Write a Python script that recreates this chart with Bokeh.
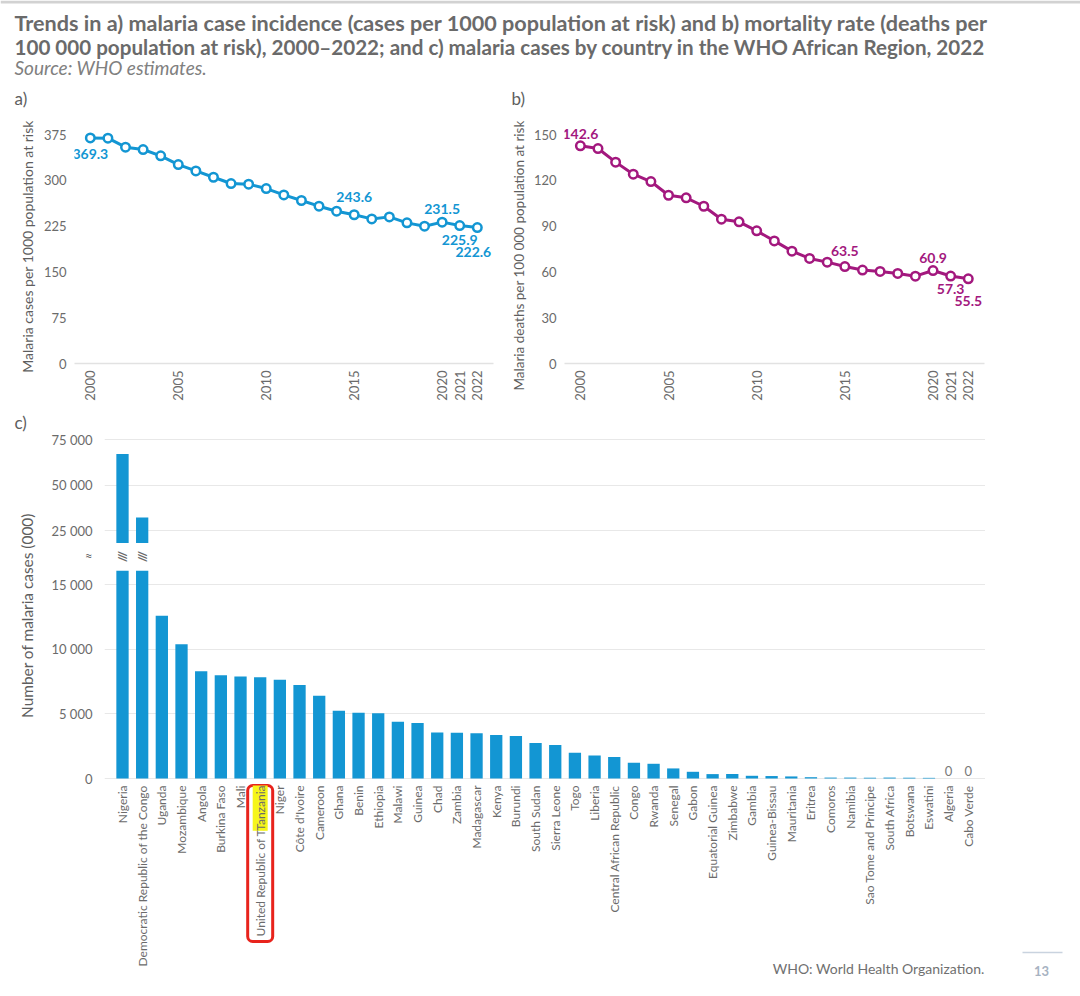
import numpy as np
from bokeh.plotting import figure
from bokeh.layouts import column, row
from bokeh.models import Range1d, FixedTicker, LabelSet, ColumnDataSource
from bokeh.core.properties import value
from bokeh.embed import file_html
from bokeh.resources import INLINE

# ---------------- data ----------------
years = list(range(2000, 2023))
incidence = [369.3, 369.0, 354.2, 350.4, 340.0, 325.8, 315.4, 305.0, 294.7, 293.6, 286.5, 276.1,
             266.9, 257.6, 249.4, 243.6, 236.8, 240.1, 230.3, 224.8, 231.5, 225.9, 222.6]
mortality = [142.6, 140.8, 131.9, 124.0, 119.2, 110.2, 108.5, 103.0, 94.5, 92.8, 86.9, 80.3,
             73.6, 68.8, 66.4, 63.5, 61.2, 60.3, 59.0, 57.2, 60.9, 57.3, 55.5]
label_years = [2000, 2015, 2020, 2021, 2022]
year_ticks = [2000, 2005, 2010, 2015, 2020, 2021, 2022]
incidence_ticks = [0, 75, 150, 225, 300, 375]
mortality_ticks = [0, 30, 60, 90, 120, 150]

countries = ["Nigeria", "Democratic Republic of the Congo", "Uganda", "Mozambique", "Angola",
             "Burkina Faso", "Mali", "United Republic of Tanzania", "Niger", "Côte d'Ivoire",
             "Cameroon", "Ghana", "Benin", "Ethiopia", "Malawi", "Guinea", "Chad", "Zambia",
             "Madagascar", "Kenya", "Burundi", "South Sudan", "Sierra Leone", "Togo", "Liberia",
             "Central African Republic", "Congo", "Rwanda", "Senegal", "Gabon", "Equatorial Guinea",
             "Zimbabwe", "Gambia", "Guinea-Bissau", "Mauritania", "Eritrea", "Comoros", "Namibia",
             "Sao Tome and Principe", "South Africa", "Botswana", "Eswatini", "Algeria", "Cabo Verde"]
cases = [67000, 32100, 12600, 10400, 8300, 8000, 7900, 7850, 7650, 7250,
         6400, 5250, 5100, 5050, 4400, 4300, 3560, 3540, 3510, 3370,
         3300, 2750, 2600, 2000, 1790, 1660, 1220, 1140, 780, 520, 340,
         350, 210, 190, 160, 100, 70, 70, 60, 70, 60, 50, 0, 0]
cases_ticks_low = [0, 5000, 10000, 15000]
cases_ticks_high = [25000, 50000, 75000]
break_low = 16080      # top of the lower axis segment
break_high = 17860     # bottom of the upper axis segment
break_mark = 17200     # where the break sign sits
highlight_country = "United Republic of Tanzania"
highlight_word = "Tanzania"

title_lines = ["Trends in a) malaria case incidence (cases per 1000 population at risk) and b) mortality rate (deaths per",
               "100 000 population at risk), 2000\u20132022; and c) malaria cases by country in the WHO African Region, 2022"]
source_text = "Source: WHO estimates."
ylab_a = "Malaria cases per 1000 population at risk"
ylab_b = "Malaria deaths per 100 000 population at risk"
ylab_c = "Number of malaria cases (000)"
footer_text = "WHO: World Health Organization."
page_number = "13"

# ---------------- style ----------------
FONT = "Lato"
BLUE = "#1396d3"
MAGENTA = "#a3187e"
TICK = "#6b6b6b"
LABEL = "#5e5e5e"
GRID = "#e8e8e8"
TXT_KW = dict(text_font=value(FONT), text_baseline="middle")


def fmt(v):
    return f"{v:,}".replace(",", " ")


def strip_fig(x0, x1, y0, y1):
    """A figure without axes whose data coordinates equal page pixels (y measured from y1 up)."""
    p = figure(width=x1 - x0, height=y1 - y0, x_range=Range1d(x0, x1), y_range=Range1d(0, y1 - y0),
               x_axis_type=None, y_axis_type=None, toolbar_location=None, output_backend="svg",
               title=None, min_border=0, outline_line_color=None)
    return p, (lambda sy: y1 - sy)


def style_axis(ax, size="13px"):
    ax.axis_line_color = None
    ax.major_tick_line_color = None
    ax.minor_tick_line_color = None
    ax.major_tick_out = 0
    ax.major_tick_in = 0
    ax.major_label_text_font = FONT
    ax.major_label_text_font_size = size
    ax.major_label_text_color = TICK


# ---------------- header ----------------
hdr, hy = strip_fig(0, 1080, 0, 88)
hdr.segment(x0=[0], y0=[hy(1.5)], x1=[1080], y1=[hy(1.5)], line_color="#d2d2d2", line_width=3)
hdr.text(x=[14, 14], y=[hy(22), hy(46)], text=title_lines, text_font_size=["21.6px", "20.6px"],
         text_font_style="bold", text_color="#6a6a6a", text_align="left", **TXT_KW)
hdr.text(x=[14], y=[hy(67)], text=[source_text], text_font_size="19px",
         text_font_style="italic", text_color="#808080", text_align="left", **TXT_KW)


# ---------------- trend panels ----------------
def trend_panel(x0, width, fl, fr, vals, ticks, color, offsets):
    ft, fb = 120, 363
    ymax = (fb - ft) * ticks[-1] / 229.0
    p = figure(width=width, height=320, x_range=Range1d(1999.1, 2022.92), y_range=Range1d(0, ymax),
               toolbar_location=None, output_backend="svg", title=None,
               min_border_left=fl - x0, min_border_right=x0 + width - fr,
               min_border_top=ft - 88, min_border_bottom=408 - fb, outline_line_color=None)
    p.grid.visible = False
    p.line(years, vals, line_width=3, line_color=color)
    p.scatter(years, vals, marker="circle", size=8.5, fill_color="white", line_color=color, line_width=2.5)

    lv = [vals[years.index(y)] for y in label_years]
    src = ColumnDataSource(dict(x=label_years, y=lv, t=[f"{v:.1f}" for v in lv],
                                ox=[offsets[y][0] for y in label_years],
                                oy=[offsets[y][1] for y in label_years]))
    p.add_layout(LabelSet(x="x", y="y", text="t", source=src, x_offset="ox", y_offset="oy",
                          text_font=value(FONT), text_font_size=value("14px"), text_font_style="bold",
                          text_color=color, text_align="center", text_baseline="middle"))

    style_axis(p.yaxis[0])
    p.yaxis.ticker = FixedTicker(ticks=ticks)
    p.yaxis.major_label_standoff = 8
    style_axis(p.xaxis[0])
    p.xaxis.ticker = FixedTicker(ticks=year_ticks)
    p.xaxis.major_label_orientation = np.pi / 2
    p.xaxis.major_label_standoff = 7
    p.xaxis.axis_line_color = "#e2e2e2"
    p.xaxis.axis_line_width = 1.5
    return p


off_a = {2000: (0, -16), 2015: (0, 18), 2020: (0, 13), 2021: (0, -14), 2022: (-4, -24)}
off_b = {2000: (0, 12), 2015: (0, 16), 2020: (0, 13), 2021: (0, -13), 2022: (0, -22)}

sa, say = strip_fig(0, 40, 88, 408)
sa.text(x=[14], y=[say(98)], text=["a)"], text_font_size="17px", text_color=LABEL, text_align="left", **TXT_KW)
sa.text(x=[27], y=[say(246)], text=[ylab_a], angle=np.pi / 2, text_font_size="14px",
        text_color=LABEL, text_align="center", **TXT_KW)
pa = trend_panel(40, 464, 72, 493, incidence, incidence_ticks, BLUE, off_a)

sb, sby = strip_fig(504, 530, 88, 408)
sb.text(x=[511], y=[sby(98)], text=["b)"], text_font_size="17px", text_color=LABEL, text_align="left", **TXT_KW)
sb.text(x=[518], y=[sby(255)], text=[ylab_b], angle=np.pi / 2, text_font_size="13.5px",
        text_color=LABEL, text_align="center", **TXT_KW)
pb = trend_panel(530, 550, 563, 984, mortality, mortality_ticks, MAGENTA, off_b)

# ---------------- panel c ----------------
C_TOP, C_BOT = 408, 994
sc, scy = strip_fig(0, 48, C_TOP, C_BOT)
sc.text(x=[14], y=[scy(422)], text=["c)"], text_font_size="17px", text_color=LABEL, text_align="left", **TXT_KW)
sc.text(x=[26], y=[scy(615)], text=[ylab_c], angle=np.pi / 2, text_font_size="15.4px",
        text_color=LABEL, text_align="center", **TXT_KW)

sr, sry = strip_fig(985, 1080, C_TOP, C_BOT)
sr.segment(x0=[1022], y0=[sry(952)], x1=[1062], y1=[sry(952)], line_color="#c9d3df", line_width=1.5)
sr.text(x=[1041], y=[sry(970)], text=[page_number], text_font_size="13px", text_font_style="bold",
        text_color="#a7b3c2", text_align="center", **TXT_KW)

idx = list(range(len(countries)))
C_FL, C_FR = 104, 985
PITCH = 19.67
cxs = -0.915
xr_c = Range1d(cxs, cxs + (C_FR - C_FL) / PITCH)
cdx = lambda sx: cxs + (sx - C_FL) / PITCH

# upper segment of the broken axis
U_SCALE = (530 - 439) / (75000 - 25000)
upper = figure(width=C_FR - 48, height=543 - C_TOP, x_range=xr_c,
               y_range=Range1d(break_high, break_high + (543 - 425) / U_SCALE), x_axis_type=None,
               toolbar_location=None, output_backend="svg", title=None,
               min_border_left=C_FL - 48, min_border_right=0, min_border_top=425 - C_TOP,
               min_border_bottom=0, outline_line_color=None)
upper.vbar(x=idx, top=cases, bottom=0, width=0.625, fill_color=BLUE, line_color=None)
style_axis(upper.yaxis[0])
upper.yaxis.ticker = FixedTicker(ticks=cases_ticks_high)
upper.yaxis.major_label_overrides = {t: fmt(t) for t in cases_ticks_high}
upper.yaxis.major_label_standoff = 12
upper.ygrid.grid_line_color = GRID

# lower segment (frame also holds the category labels and the footer)
L_SCALE = (778 - 584.3) / 15000
Z = 778  # page y of zero
lower = figure(width=C_FR - 48, height=C_BOT - 543, x_range=xr_c,
               y_range=Range1d(-(C_BOT - Z) / L_SCALE, (Z - 543) / L_SCALE), x_axis_type=None,
               toolbar_location=None, output_backend="svg", title=None,
               min_border_left=C_FL - 48, min_border_right=0, min_border_top=0, min_border_bottom=0,
               outline_line_color=None)
ldy = lambda sy: (Z - sy) / L_SCALE
lower.vbar(x=idx, top=np.minimum(np.array(cases, dtype=float), break_low), width=0.625,
           fill_color=BLUE, line_color=None)
big = [i for i, v in enumerate(cases) if v > break_low]
lower.text(x=big, y=[break_mark] * len(big), text=["///"] * len(big), angle=np.pi / 2,
           text_font_size="12px", text_font_style="bold", text_color="#6a6a6a", text_align="center", **TXT_KW)
zeros = [i for i, v in enumerate(cases) if v == 0]
lower.add_layout(LabelSet(x="x", y="y", text="t", y_offset=8,
                          source=ColumnDataSource(dict(x=zeros, y=[0] * len(zeros),
                                                       t=[fmt(cases[i]) for i in zeros])),
                          text_font=value(FONT), text_font_size=value("13px"), text_color="#7a7a7a",
                          text_align="center", text_baseline="middle"))

style_axis(lower.yaxis[0])
lower.yaxis.ticker = FixedTicker(ticks=cases_ticks_low + [break_mark])
lower.yaxis.major_label_overrides = {**{t: fmt(t) for t in cases_ticks_low}, break_mark: "\u2248"}
lower.yaxis.major_label_standoff = 12
lower.ygrid.ticker = FixedTicker(ticks=cases_ticks_low)
lower.ygrid.grid_line_color = GRID

# category labels
hi = countries.index(highlight_country)
lab_y = -7 / L_SCALE
others = [i for i in idx if i != hi]
lower.text(x=others, y=[lab_y] * len(others), text=[countries[i] for i in others], angle=np.pi / 2,
           text_font_size="12px", text_color=TICK, text_align="right", **TXT_KW)
lower.text(x=[hi], y=[lab_y], text=[highlight_country], angle=np.pi / 2, text_font_size="12px",
           text_color=TICK, text_align="right", border_line_color="#e8231c", border_line_width=3,
           border_radius=5, padding=5, **TXT_KW)
lower.text(x=[hi], y=[lab_y], text=[highlight_word], angle=np.pi / 2, text_font_size="12px",
           text_color=TICK, text_align="right", background_fill_color="#f6f61a", **TXT_KW)

# footer
lower.text(x=[cdx(984)], y=[ldy(968)], text=[footer_text], text_font_size="14px",
           text_color="#707070", text_align="right", **TXT_KW)

layout = column(hdr,
                row(column(sa), column(pa), column(sb), column(pb)),
                row(sc, column(upper, lower), sr))

with open("out.html", "w") as f:
    f.write(file_html(layout, INLINE))
